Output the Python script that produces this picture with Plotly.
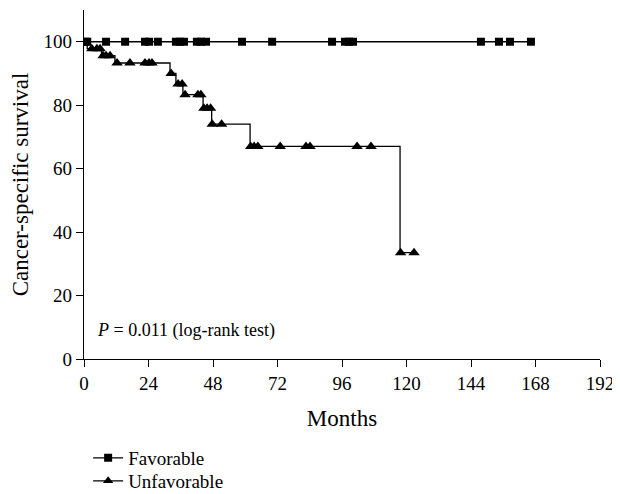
import plotly.graph_objects as go

# ---- data (months, survival %) ----
fav_censor_times = [0.5, 1.2, 8.2, 15.3, 22.7, 24.2, 27.5, 34.2, 35.7, 37.2, 42.0, 43.5,
                    45.4, 58.8, 70.0, 92.3, 97.1, 98.6, 100.1, 147.7, 154.4, 158.5, 166.3]
fav_level = 100.0

unfav_event_times = [1.2, 6.5, 11.5, 32.0, 34.2, 36.8, 44.3, 47.5, 61.8, 117.6]
unfav_levels = [100.0, 97.8, 95.6, 93.3, 90.0, 86.7, 83.3, 79.0, 74.0, 67.0, 33.5]
unfav_censor_times = [2.9, 4.8, 6.0, 7.1, 8.2, 9.7, 12.3, 17.1, 22.7, 24.2, 25.3, 32.4,
                      35.0, 36.5, 37.6, 42.4, 43.5, 44.6, 45.8, 47.1, 47.7, 51.2, 62.0,
                      63.3, 64.7, 73.0, 82.6, 84.1, 101.6, 106.8, 117.8, 122.8]

x_ticks = [0, 24, 48, 72, 96, 120, 144, 168, 192]
y_ticks = [0, 20, 40, 60, 80, 100]


def level_at(t):
    n = sum(1 for e in unfav_event_times if e <= t)
    return unfav_levels[n]


FONT = "Liberation Serif"
fig = go.Figure()

# Favorable curve
fig.add_trace(go.Scatter(x=[0, max(fav_censor_times)], y=[fav_level, fav_level],
                         mode="lines", line=dict(color="black", width=1.3),
                         showlegend=False, hoverinfo="skip"))
fig.add_trace(go.Scatter(x=fav_censor_times, y=[fav_level] * len(fav_censor_times),
                         mode="markers", marker=dict(symbol="square", size=8, color="black"),
                         showlegend=False))

# Unfavorable curve
step_x = [0] + unfav_event_times + [max(unfav_censor_times)]
step_y = unfav_levels + [unfav_levels[-1]]
fig.add_trace(go.Scatter(x=step_x, y=step_y, mode="lines", line_shape="hv",
                         line=dict(color="black", width=1.3), showlegend=False,
                         hoverinfo="skip"))
fig.add_trace(go.Scatter(x=unfav_censor_times, y=[level_at(t) for t in unfav_censor_times],
                         mode="markers",
                         marker=dict(symbol="triangle-up", size=10, color="black"),
                         showlegend=False))

# Legend entries
fig.add_trace(go.Scatter(x=[None], y=[None], mode="lines+markers", name="Favorable",
                         line=dict(color="black", width=1.3), legend="legend",
                         marker=dict(symbol="square", size=8, color="black")))
fig.add_trace(go.Scatter(x=[None], y=[None], mode="lines+markers", name="Unfavorable",
                         line=dict(color="black", width=1.3), legend="legend2",
                         marker=dict(symbol="triangle-up", size=9, color="black")))

fig.add_annotation(text="<i>P</i> = 0.011 (log-rank test)", xref="paper", yref="y",
                   x=0.022, y=9, xanchor="left", yanchor="middle", showarrow=False,
                   font=dict(family=FONT, size=18, color="black"))

axis_common = dict(ticks="outside", ticklen=7, tickwidth=1.3, tickcolor="black",
                   showline=True, linecolor="black", linewidth=1.3, showgrid=False,
                   zeroline=False, automargin=False)

legend_common = dict(xref="paper", yref="paper", xanchor="left",
                     yanchor="middle", font=dict(family=FONT, size=19),
                     bgcolor="rgba(0,0,0,0)", itemwidth=30)

fig.update_layout(
    width=620, height=494,
    margin=dict(l=76, r=28, t=2, b=143, autoexpand=False),
    plot_bgcolor="white", paper_bgcolor="white",
    font=dict(family=FONT, size=19, color="black"),
    xaxis=dict(range=[0, 192], tickvals=x_ticks,
               title=dict(text="Months", standoff=16), **axis_common),
    yaxis=dict(range=[0, 110], tickvals=y_ticks,
               title=dict(text="Cancer-specific survival", standoff=10), **axis_common),
    legend=dict(x=0.008, y=(359 - 458) / 349, **legend_common),
    legend2=dict(x=0.008, y=(359 - 481) / 349, **legend_common),
)

fig.write_html("out.html")
